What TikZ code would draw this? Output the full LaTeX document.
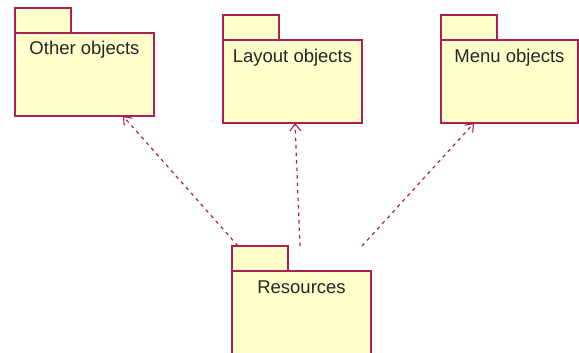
\documentclass[tikz,border=0pt]{standalone}
\usepackage{fontspec}
\setmainfont{Liberation Sans}
\usetikzlibrary{arrows.meta,positioning,calc}
\definecolor{pkgline}{RGB}{172,32,82}
\definecolor{pkgfill}{RGB}{255,255,204}
\tikzset{
  pkgbody/.style={draw=pkgline, fill=pkgfill, line width=1.2bp, anchor=north west,
    minimum width=139bp, minimum height=83bp, inner sep=0pt, outer sep=0pt},
  pkgtab/.style={draw=pkgline, fill=pkgfill, line width=1.2bp, anchor=south west,
    minimum width=56bp, minimum height=25bp, inner sep=0pt, outer sep=0pt},
  pkgname/.style={anchor=base, inner sep=0pt, font=\fontsize{18.5bp}{21bp}\selectfont, text=black!85},
  dependency/.style={draw=pkgline, line width=1.2bp, dash pattern=on 3.5bp off 4bp,
    -{Straight Barb[length=7bp,width=11bp,line width=1.1bp]}}
}
\begin{document}
\begin{tikzpicture}[x=1bp,y=-1bp]
  \useasboundingbox (0,0) rectangle (579,352);
  % packages: body, tab on top-left, name near the top of the body
  \node[pkgbody] (other) at (15,33) {};
  \node[pkgtab] (othertab) at (other.north west) {};
  \node[pkgname] (othername) at ($(other.north)+(0,21)$) {Other objects};

  \node[pkgbody] (layout) at (223,40) {};
  \node[pkgtab] (layouttab) at (layout.north west) {};
  \node[pkgname] (layoutname) at ($(layout.north)+(0,22)$) {Layout objects};

  \node[pkgbody, minimum width=137bp] (menu) at (441,40) {};
  \node[pkgtab] (menutab) at (menu.north west) {};
  \node[pkgname] (menuname) at ($(menu.north)+(0,22)$) {Menu objects};

  \node[pkgbody, minimum height=90bp] (res) at (232,271) {};
  \node[pkgtab] (restab) at (res.north west) {};
  \node[pkgname] (resname) at ($(res.north)+(0,22)$) {Resources};

  % dependency start points above the Resources package
  \coordinate (dleft) at ($(restab.north west)+(6,0)$);
  \coordinate (dmid) at (300,246);
  \coordinate (dright) at (362,246);

  \draw[dependency] (dleft) -- ($(other.south west)+(108,0)$);
  \draw[dependency] (dmid) -- ($(layout.south west)+(72,0)$);
  \draw[dependency] (dright) -- ($(menu.south west)+(33,0)$);
\end{tikzpicture}
\end{document}
